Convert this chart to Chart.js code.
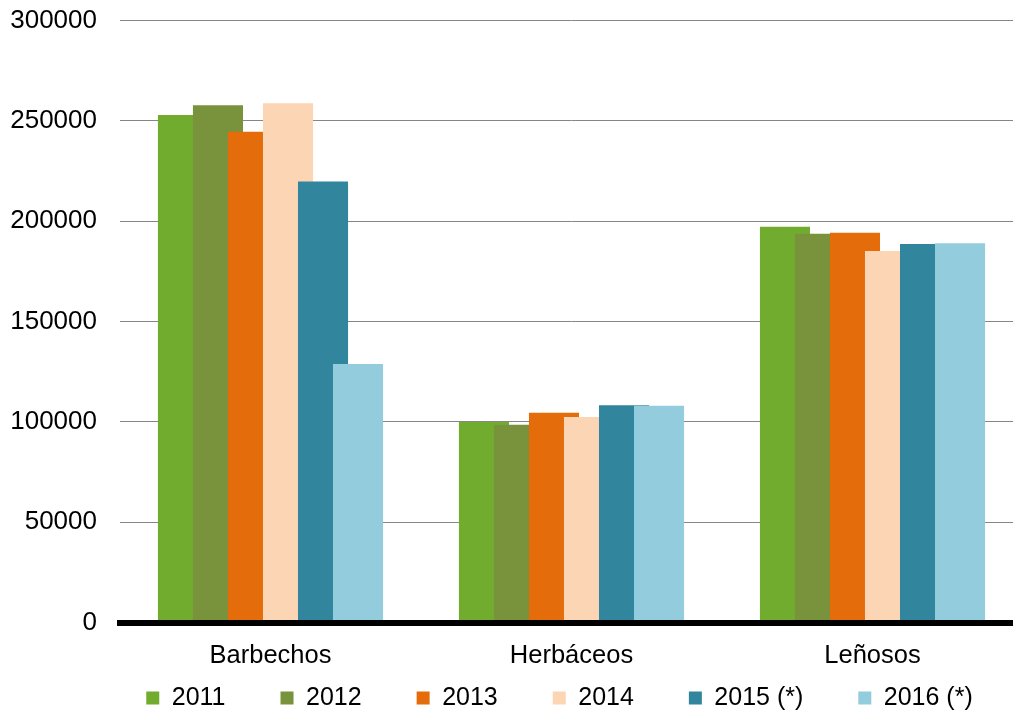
<!DOCTYPE html>
<html>
<head>
<meta charset="utf-8">
<script src="https://cdn.jsdelivr.net/npm/chart.js@4"></script>
<style>
  html, body { margin: 0; padding: 0; background: #fff; overflow: hidden; }
  #caixa { position: relative; width: 1119px; height: 715px; }
</style>
</head>
<body>
<div id="caixa"><canvas id="grafico"></canvas></div>
<script>
// Dados
const categorias = ['Barbechos', 'Herbáceos', 'Leñosos'];
const rotulosSeries = ['2011', '2012', '2013', '2014', '2015 (*)', '2016 (*)'];
const valores2011 = [253000, 100000, 197300];
const valores2012 = [257800, 98600, 193800];
const valores2013 = [244700, 104600, 194300];
const valores2014 = [258800, 102400, 185200];
const valores2015 = [219900, 108300, 188700];
const valores2016 = [128900, 108000, 189000];
const cores = ['#72AC2F', '#79933D', '#E46C0A', '#FCD5B5', '#31859C', '#93CDDD'];
const eixoY = { min: 0, max: 300000, passo: 50000 };

const todasSeries = [valores2011, valores2012, valores2013, valores2014, valores2015, valores2016];
const fonte = 'Liberation Sans, Arial, sans-serif';

const datasets = todasSeries.map((serie, i) => ({
    label: rotulosSeries[i],
    data: serie,
    backgroundColor: cores[i],
    borderWidth: 0,
    yAxisID: 'y',
    categoryPercentage: 0.698,
    barPercentage: 1.43
}));

// Desenha as barras pela ordem das séries (a última fica por cima)
const ordemDesenho = {
    id: 'ordemDesenho',
    beforeDatasetsDraw(chart) {
        chart.getSortedVisibleDatasetMetas().forEach(meta => meta.controller.draw());
        return false;
    }
};

// Sobe a legenda (o padding da legenda também conta na vertical)
const subirLegenda = {
    id: 'subirLegenda',
    afterLayout(chart) {
        const legenda = chart.legend;
        if (legenda) {
            legenda.top -= 42;
        }
    }
};

new Chart(document.getElementById('grafico'), {
    type: 'bar',
    data: { labels: categorias, datasets: datasets },
    plugins: [ordemDesenho, subirLegenda],
    options: {
        responsive: true,
        maintainAspectRatio: false,
        animation: false,
        layout: { padding: { top: 20.7, right: 0, left: 0, bottom: 0 } },
        scales: {
            x: {
                afterFit: (escala) => { escala.height = 50; },
                grid: { display: false, drawTicks: false },
                border: { display: true, color: '#000', width: 6, z: 1 },
                ticks: { color: '#000', font: { family: fonte, size: 25.5 }, padding: 18 }
            },
            y: {
                min: eixoY.min,
                max: eixoY.max,
                afterFit: (escala) => { escala.width = 120; escala.paddingTop = 0; escala.paddingBottom = 0; },
                grid: { color: '#868686', lineWidth: 1, drawTicks: false },
                border: { display: false },
                ticks: {
                    stepSize: eixoY.passo,
                    color: '#000',
                    padding: 23,
                    font: { family: fonte, size: 26 },
                    callback: (v) => String(v)
                }
            },
            // margem à direita (o gráfico original está cortado)
            margem: {
                position: 'right',
                afterFit: (escala) => { escala.width = 96; escala.paddingTop = 0; escala.paddingBottom = 0; },
                grid: { display: false, drawTicks: false },
                border: { display: false },
                ticks: { display: false }
            }
        },
        plugins: {
            legend: {
                position: 'bottom',
                maxHeight: 42.5,
                labels: {
                    color: '#000',
                    boxWidth: 13,
                    boxHeight: 13,
                    padding: 55,
                    font: { family: fonte, size: 25 }
                }
            },
            tooltip: { enabled: false }
        }
    }
});
</script>
</body>
</html>
